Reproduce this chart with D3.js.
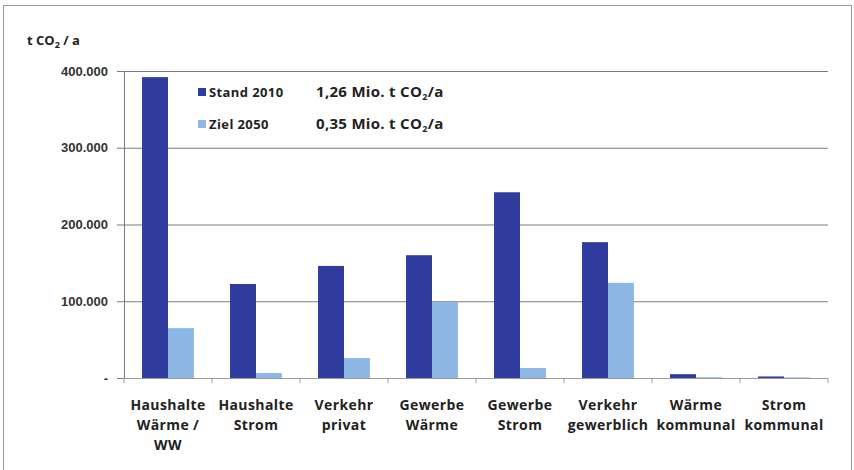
<!DOCTYPE html>
<html>
<head>
<meta charset="utf-8">
<script src="https://cdn.jsdelivr.net/npm/d3@7"></script>
<style>
  body { margin: 0; background: #fff; }
  svg { display: block; font-family: "Open Sans", "DejaVu Sans", sans-serif; }
</style>
</head>
<body>
<svg id="chart" width="854" height="470"></svg>
<script>
const categories = [
  ["Haushalte", "Wärme /", "WW"],
  ["Haushalte", "Strom"],
  ["Verkehr", "privat"],
  ["Gewerbe", "Wärme"],
  ["Gewerbe", "Strom"],
  ["Verkehr", "gewerblich"],
  ["Wärme", "kommunal"],
  ["Strom", "kommunal"]
];
const stand2010 = [392000, 122500, 146000, 160000, 242000, 177000, 5000, 2000];
const ziel2050 = [65000, 6500, 26000, 99000, 13000, 124000, 1000, 800];
const seriesNames = ["Stand 2010", "Ziel 2050"];
const seriesTotals = ["1,26 Mio. t CO", "0,35 Mio. t CO"];
const yTicks = [0, 100000, 200000, 300000, 400000];

const colors = ["#2f3c9d", "#8db8e6"];
const plotL = 124, plotR = 828, plotT = 71, plotB = 378;

const svg = d3.select("#chart");

// frame
svg.append("rect")
  .attr("x", 3.5).attr("y", 5.5)
  .attr("width", 848).attr("height", 470)
  .attr("fill", "none").attr("stroke", "#9a9a9a");

const x = d3.scaleBand()
  .domain(d3.range(categories.length))
  .range([plotL, plotR])
  .paddingInner(0.41)
  .paddingOuter(0.205);

const xs = d3.scaleBand()
  .domain([0, 1])
  .range([0, x.bandwidth()]);

const y = d3.scaleLinear()
  .domain([0, 400000])
  .range([plotB, plotT]);

const fmt = v => v === 0 ? "-" : d3.format(",")(v).replace(/,/g, ".");

// gridlines + y ticks
const yAxis = svg.append("g")
  .attr("transform", `translate(${plotL},0)`)
  .call(d3.axisLeft(y).tickValues(yTicks).tickSize(7).tickFormat(fmt));
yAxis.select(".domain").attr("stroke", "#7a7a7a");
yAxis.selectAll(".tick line").attr("stroke", "#7a7a7a");
yAxis.selectAll(".tick text")
  .attr("x", -16)
  .style("font-size", "13px")
  .style("font-weight", "bold")
  .style("fill", "#333");

svg.append("g")
  .selectAll("line")
  .data(yTicks.filter(d => d > 0))
  .enter()
  .append("line")
  .attr("x1", plotL).attr("x2", plotR)
  .attr("y1", d => y(d) + 0.5).attr("y2", d => y(d) + 0.5)
  .attr("stroke", "#7a7a7a");

// bars
const data = categories.map((c, i) => [stand2010[i], ziel2050[i]]);
const groups = svg.append("g")
  .selectAll("g")
  .data(data)
  .enter()
  .append("g")
  .attr("transform", (d, i) => `translate(${x(i)},0)`);

groups.selectAll("rect")
  .data(d => d)
  .enter()
  .append("rect")
  .attr("x", (d, j) => xs(j))
  .attr("y", d => y(d))
  .attr("width", xs.bandwidth())
  .attr("height", d => plotB - y(d))
  .attr("fill", (d, j) => colors[j]);

// x axis line + ticks between categories
svg.append("line")
  .attr("x1", plotL).attr("x2", plotR)
  .attr("y1", plotB + 0.5).attr("y2", plotB + 0.5)
  .attr("stroke", "#9a9a9a");
const step = x.step();
svg.append("g")
  .selectAll("line")
  .data(d3.range(categories.length + 1))
  .enter()
  .append("line")
  .attr("x1", i => plotL + i * step).attr("x2", i => plotL + i * step)
  .attr("y1", plotB).attr("y2", plotB + 5)
  .attr("stroke", "#9a9a9a");

// category labels
const labels = svg.append("g")
  .selectAll("text")
  .data(categories)
  .enter()
  .append("text")
  .attr("x", (d, i) => x(i) + x.bandwidth() / 2)
  .attr("y", 410)
  .attr("text-anchor", "middle")
  .style("font-size", "14px")
  .style("letter-spacing", "0.4px")
  .style("font-weight", "bold")
  .style("fill", "#222");
labels.selectAll("tspan")
  .data(d => d)
  .enter()
  .append("tspan")
  .attr("x", function () { return this.parentNode.getAttribute("x"); })
  .attr("dy", (d, k) => k === 0 ? 0 : 20)
  .text(d => d);

// subscript helper: text + small "2" + rest
function co2(sel, before, after) {
  sel.append("tspan").text(before);
  sel.append("tspan").attr("dy", 3).style("font-size", "9px").text("2");
  sel.append("tspan").attr("dy", -3).text(after);
}

// y axis title
const yt = svg.append("text")
  .attr("x", 27).attr("y", 45)
  .style("font-size", "13px")
  .style("font-weight", "bold")
  .style("fill", "#222");
co2(yt, "t CO", " / a");

// legend
const legend = svg.append("g");
seriesNames.forEach((name, i) => {
  const ly = 97 + i * 32;
  legend.append("rect")
    .attr("x", 198).attr("y", ly - 9)
    .attr("width", 8).attr("height", 8)
    .attr("fill", colors[i]);
  legend.append("text")
    .attr("x", 209).attr("y", ly)
    .style("font-size", "13px")
    .style("letter-spacing", "0.4px")
    .style("font-weight", "bold")
    .style("fill", "#222")
    .text(name);
  const t = legend.append("text")
    .attr("x", 316).attr("y", ly)
    .style("font-size", "15px")
    .style("letter-spacing", "0.3px")
    .style("font-weight", "bold")
    .style("fill", "#222");
  co2(t, seriesTotals[i], "/a");
});
</script>
</body>
</html>
